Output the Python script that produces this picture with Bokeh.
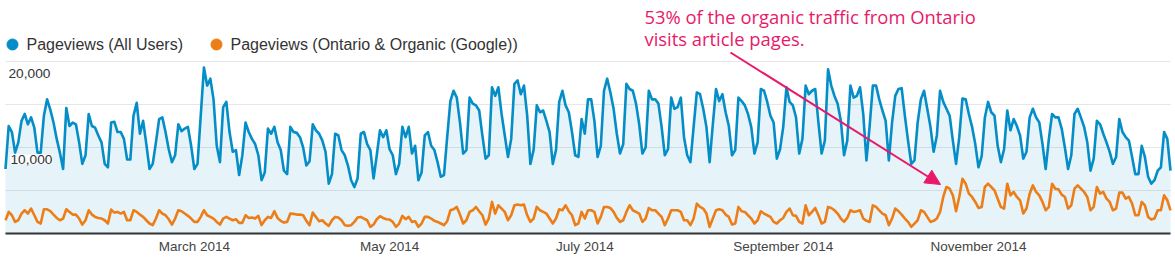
import pandas as pd
from bokeh.plotting import figure
from bokeh.models import Range1d, Label, Arrow, NormalHead, ColumnDataSource
from bokeh.core.properties import value
from bokeh.embed import file_html
from bokeh.resources import INLINE

start_date = "2014-01-01"
series_names = ["Pageviews (All Users)", "Pageviews (Ontario & Organic (Google))"]
month_ticks = ["2014-03-01", "2014-05-01", "2014-07-01", "2014-09-01", "2014-11-01"]
y_ticks = [0, 5000, 10000, 15000, 20000]
y_labels = ["20,000", "10,000"]
note_lines = ["53% of the organic traffic from Ontario", "visits article pages."]

all_users = [
    7500, 12500, 11800, 9400, 10600, 13100, 13900, 12700, 13500, 12300,
    9400, 9400, 13700, 15600, 14400, 12900, 11000, 9400, 7500, 14600,
    12500, 12900, 12700, 10600, 8100, 9100, 13900, 12500, 12300, 11400,
    10600, 8100, 7700, 12900, 13000, 11800, 11800, 11000, 8600, 8600,
    13700, 15200, 11600, 13100, 10400, 7500, 8100, 10600, 13300, 13500,
    11800, 9800, 8300, 9100, 12700, 11900, 12200, 12400, 10200, 7500,
    8100, 13700, 19300, 17200, 18000, 15600, 10200, 8300, 14700, 15300,
    11800, 9500, 9700, 6800, 9100, 12900, 11800, 11000, 10400, 9100,
    6200, 7100, 12200, 11600, 12400, 10600, 9700, 7300, 6900, 12400,
    11800, 11700, 11200, 10000, 7900, 8400, 12700, 12000, 11600, 10800,
    9500, 5800, 6900, 11600, 11400, 9700, 9100, 7900, 6200, 5400,
    6400, 11600, 11800, 10400, 9700, 6400, 9100, 12000, 11200, 12000,
    9800, 9100, 6900, 8100, 12400, 11200, 12400, 9300, 10200, 6200,
    7100, 11400, 11800, 10200, 9700, 8300, 6600, 6800, 11200, 15400,
    16600, 15800, 12900, 9300, 9700, 15800, 15100, 14900, 14300, 11400,
    8700, 9100, 17000, 16000, 17000, 13900, 11400, 8900, 11000, 17400,
    17800, 16200, 17200, 13700, 8100, 9700, 14900, 14100, 14300, 13100,
    11800, 8100, 9700, 15300, 16600, 14900, 14100, 11800, 9100, 8900,
    13300, 11600, 15600, 15600, 13100, 8900, 10200, 16600, 18000, 16400,
    14500, 11600, 9300, 10400, 17400, 16800, 16600, 15100, 12700, 9300,
    10000, 16600, 15600, 15600, 15100, 12400, 9100, 9800, 15800, 14500,
    14700, 15800, 11200, 9100, 8300, 12400, 16400, 16200, 14500, 12400,
    8300, 12700, 16800, 15400, 16200, 14100, 12500, 9100, 9700, 15800,
    15400, 14900, 13900, 12400, 9300, 10600, 16800, 16600, 15300, 13700,
    12900, 8700, 9800, 12400, 17000, 15300, 14900, 13500, 9300, 11000,
    17200, 16200, 16600, 16800, 12900, 9300, 10800, 19100, 17200, 16000,
    15100, 13100, 9100, 10800, 17200, 15800, 16000, 17000, 13900, 8500,
    12500, 17200, 17200, 15600, 14300, 13100, 8500, 12900, 16000, 16800,
    16900, 13700, 10800, 8100, 8500, 12900, 15600, 16600, 14500, 12400,
    9500, 11400, 16600, 15300, 14500, 13700, 10800, 8100, 11200, 15700,
    15600, 13900, 12400, 10400, 7700, 9000, 13500, 15300, 14100, 13700,
    10200, 8300, 9800, 14300, 12000, 13300, 12500, 11400, 8700, 9500,
    13500, 14500, 13500, 12900, 10400, 7500, 11000, 13900, 13500, 13500,
    12200, 10000, 7500, 9100, 13900, 14500, 13500, 12400, 10600, 7300,
    8700, 13100, 12700, 11600, 10600, 9500, 8100, 8900, 13300, 11800,
    11200, 10800, 8900, 6900, 6900, 10200, 8900, 6600, 5800, 6200,
    7300, 7700, 11800, 11000, 7300,
]

ontario_organic = [
    1540, 2510, 2120, 1350, 1540, 2320, 2700, 2320, 2900, 2120,
    1350, 1160, 2820, 2820, 2590, 2200, 1810, 1540, 1740, 2820,
    2510, 2200, 2200, 1740, 1040, 1540, 2700, 2200, 1930, 1810,
    1740, 1540, 1160, 2780, 2430, 2510, 2320, 2510, 1540, 1540,
    2700, 2510, 2200, 1930, 1540, 1160, 970, 1740, 2700, 2320,
    2120, 1660, 1040, 1740, 2700, 2590, 2320, 2050, 1740, 1350,
    1350, 1930, 2700, 2120, 1930, 1740, 1350, 1040, 1740, 1930,
    1740, 1540, 1660, 1240, 1240, 2120, 1810, 1850, 1740, 2050,
    970, 1540, 1930, 1810, 2590, 1810, 1470, 1270, 1350, 2320,
    2280, 2200, 2200, 2120, 1470, 970, 2430, 1930, 1430, 1540,
    1160, 890, 1540, 1930, 1850, 1540, 970, 890, 970, 1350,
    1850, 1930, 1740, 1540, 770, 1040, 1660, 2010, 1810, 1660,
    1620, 1350, 770, 1160, 2050, 1660, 1930, 1350, 1430, 770,
    1160, 1930, 1930, 1740, 1470, 1350, 1160, 970, 1430, 2700,
    2820, 3090, 2200, 1160, 1540, 2510, 2700, 3090, 2590, 2120,
    1040, 1740, 3670, 2320, 3280, 2900, 2510, 1540, 2120, 3280,
    3360, 3280, 3360, 2120, 1350, 1740, 3090, 2700, 2510, 2320,
    1740, 1160, 1740, 2820, 2700, 3280, 2590, 2120, 970, 1160,
    2510, 1740, 2700, 2700, 2510, 1160, 1930, 3090, 3090, 2970,
    2510, 1810, 1350, 1540, 2510, 3280, 2700, 2510, 2320, 1350,
    1740, 2970, 2700, 2700, 2320, 1930, 970, 1740, 2700, 2700,
    2700, 2510, 1540, 1540, 970, 1740, 3470, 3090, 2900, 2320,
    770, 1740, 2700, 2820, 2700, 2200, 1930, 1040, 1160, 3090,
    2590, 2510, 2120, 1740, 1160, 1540, 2590, 2320, 2120, 1930,
    1350, 1160, 1540, 1810, 2510, 2900, 2120, 2050, 1350, 1160,
    3280, 2120, 2510, 2970, 2120, 1160, 1350, 3090, 2970, 2700,
    2320, 1740, 1350, 1810, 2700, 2510, 2590, 2700, 1740, 1470,
    1350, 3280, 3090, 2700, 2320, 2120, 970, 1740, 2900, 2590,
    2200, 1740, 1350, 770, 1160, 1540, 2700, 2510, 1930, 1350,
    1470, 1740, 2510, 4250, 5410, 5210, 4440, 2590, 4250, 6370,
    5790, 4630, 4250, 3670, 2970, 3090, 5410, 5790, 5410, 5020,
    4050, 3090, 2900, 5790, 4440, 4830, 4250, 3860, 2320, 2900,
    4630, 5600, 4830, 4440, 3670, 2700, 3090, 5790, 5210, 5140,
    4520, 4250, 2900, 3280, 5210, 5600, 5210, 4830, 4250, 2700,
    3090, 5410, 4630, 4830, 4050, 3670, 2700, 2900, 4750, 4750,
    4050, 4250, 3470, 2120, 2120, 3670, 3280, 1930, 1620, 1740,
    2700, 2700, 4440, 3860, 2700,
]

BLUE = "#058dc7"
ORANGE = "#ed7e17"
PINK = "#e8196a"
FONT = "Liberation Sans"

n = min(len(all_users), len(ontario_organic))
dates = pd.date_range(start_date, periods=n, freq="D")
src = ColumnDataSource(dict(x=dates, blue=all_users[:n], orange=ontario_organic[:n]))

# canvas geometry (pixels) of the plotting area inside the full-canvas frame
W, H = 1175, 271
PL, PR, PT, PB = 5, 1170, 61, 233
t0 = dates[0].value / 1e6
t1 = dates[-1].value / 1e6
ymin, ymax = y_ticks[0], y_ticks[-1]

def px_x(px):
    return t0 + (px - PL) / (PR - PL) * (t1 - t0)

def px_y(py):
    return ymin + (PB - py) / (PB - PT) * (ymax - ymin)

p = figure(width=W, height=H, x_axis_location=None, y_axis_location=None,
           toolbar_location=None, output_backend="svg",
           min_border=0, min_border_left=0, min_border_right=0,
           min_border_top=0, min_border_bottom=0,
           x_range=Range1d(px_x(0), px_x(W)), y_range=Range1d(px_y(H), px_y(0)))
p.outline_line_color = None
p.background_fill_color = "white"
p.border_fill_color = "white"
p.xgrid.visible = False
p.ygrid.visible = False

# gridlines
grid_vals = y_ticks[1:]
p.segment(x0=[t0] * len(grid_vals), x1=[t1] * len(grid_vals), y0=grid_vals, y1=grid_vals,
          line_color="#e6e6e6", line_width=1)

# data
p.varea(x="x", y1=0, y2="blue", source=src, fill_color=BLUE, fill_alpha=0.1)
p.line(x="x", y="blue", source=src, line_color=BLUE, line_width=2.6, line_join="round")
p.line(x="x", y="orange", source=src, line_color=ORANGE, line_width=2.6, line_join="round")

# x axis line
p.segment(x0=[t0], x1=[t1], y0=[ymin], y1=[ymin], line_color="#333333", line_width=2)

# month labels
tick_dates = [pd.Timestamp(t) for t in month_ticks]
p.text(x=tick_dates, y=[px_y(246)] * len(tick_dates),
       text=[t.strftime("%B %Y") for t in tick_dates],
       text_align="center", text_baseline="middle", text_font=value(FONT),
       text_font_size="13.5px", text_color="#444444")

# y labels
p.add_layout(Label(x=px_x(8), y=px_y(72.5), text=y_labels[0], text_baseline="middle",
                   text_font=FONT, text_font_size="13.7px", text_color="#333333"))
p.add_layout(Label(x=px_x(10), y=px_y(158.5), text=y_labels[1], text_baseline="middle",
                   text_font=FONT, text_font_size="13.7px", text_color="#333333",
                   background_fill_color="white", background_fill_alpha=0.85))

# legend
for cx, tx, col, name in [(12, 26, BLUE, series_names[0]), (216, 230, ORANGE, series_names[1])]:
    p.scatter(x=[px_x(cx)], y=[px_y(44)], size=11, marker="circle",
              fill_color=col, line_color=col)
    p.add_layout(Label(x=px_x(tx), y=px_y(44), text=name, text_baseline="middle",
                       text_font=FONT, text_font_size="16px", text_color="#333333"))

# note
p.add_layout(Label(x=px_x(644), y=px_y(16), text=note_lines[0], text_baseline="middle",
                   text_font="Open Sans", text_font_size="18.4px", text_color=PINK))
p.add_layout(Label(x=px_x(644), y=px_y(38), text=note_lines[1], text_baseline="middle",
                   text_font="Open Sans", text_font_size="18.4px", text_color=PINK))
p.add_layout(Arrow(end=NormalHead(size=15, fill_color=PINK, line_color=PINK),
                   x_start=px_x(730), y_start=px_y(52), x_end=px_x(940), y_end=px_y(184),
                   line_color=PINK, line_width=2))

open("out.html", "w").write(file_html(p, INLINE))
